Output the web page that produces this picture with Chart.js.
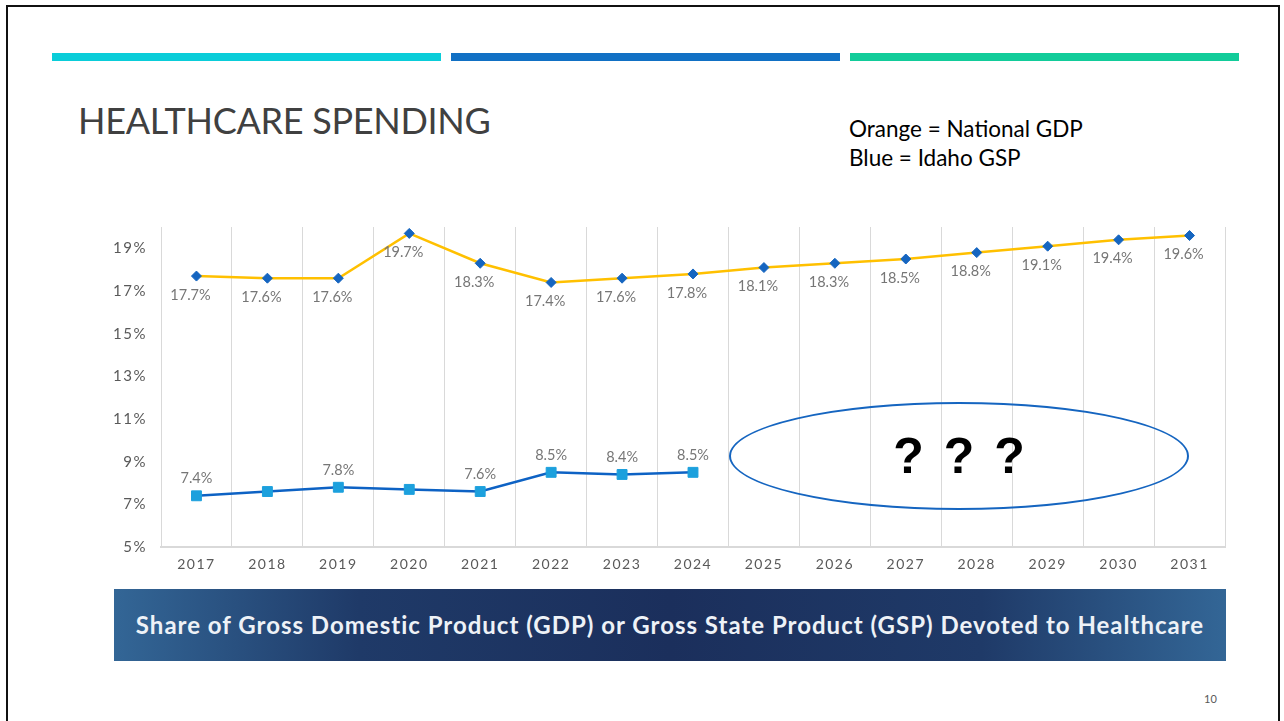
<!DOCTYPE html>
<html>
<head>
<meta charset="utf-8">
<script src="https://cdn.jsdelivr.net/npm/chart.js@4/dist/chart.umd.min.js"></script>
<style>
  body { margin: 0; background: #fff; width: 1284px; height: 721px; overflow: hidden; position: relative; font-family: Lato, "Open Sans", sans-serif; }
  #frame { position: absolute; left: 6px; top: 5px; width: 1274px; height: 800px; border: 2px solid #111; box-sizing: border-box; }
  .bar { position: absolute; top: 53px; height: 8px; width: 389px; }
  #title { position: absolute; left: 78px; top: 98px; font-size: 36px; color: #404040; letter-spacing: -0.3px; }
  #legendNote { position: absolute; left: 849px; top: 114px; font-size: 22.5px; line-height: 29px; color: #000; }
  #chartBox { position: absolute; left: 100px; top: 204px; width: 1135px; height: 376px; }
  #oval { position: absolute; left: 729px; top: 402px; width: 460px; height: 108px; border: 2px solid #1565C0; border-radius: 50%; box-sizing: border-box; }
  #qq { position: absolute; left: 729px; top: 402px; width: 460px; height: 108px; line-height: 108px; text-align: center; font-family: "Liberation Sans", Arial, sans-serif; font-weight: bold; font-size: 50px; color: #000; word-spacing: 6px; }
  #banner { position: absolute; left: 114px; top: 589px; width: 1112px; height: 72px; line-height: 72px; text-align: center; color: #EEF2F7; font-size: 24px; font-weight: bold; letter-spacing: 1px;
    background: linear-gradient(90deg, #336696 0%, #1F3A68 22%, #1B2F5C 50%, #1F3A68 78%, #336696 100%); }
  #pageNo { position: absolute; left: 1204px; top: 692px; font-size: 11px; color: #595959; }
</style>
</head>
<body>
<div id="frame"></div>
<div class="bar" style="left:52px;background:#0ACDD9"></div>
<div class="bar" style="left:451px;background:#1170C4"></div>
<div class="bar" style="left:850px;background:#12CC9A"></div>
<div id="title">HEALTHCARE SPENDING</div>
<div id="legendNote">Orange = National GDP<br>Blue = Idaho GSP</div>
<div id="chartBox"><canvas id="chart"></canvas></div>
<div id="oval"></div>
<div id="qq">? ? ?</div>
<div id="banner">Share of Gross Domestic Product (GDP) or Gross State Product (GSP) Devoted to Healthcare</div>
<div id="pageNo">10</div>
<script>
// values
var years = ['2017', '2018', '2019', '2020', '2021', '2022', '2023', '2024', '2025', '2026', '2027', '2028', '2029', '2030', '2031'];
var nationalGdp = [17.7, 17.6, 17.6, 19.7, 18.3, 17.4, 17.6, 17.8, 18.1, 18.3, 18.5, 18.8, 19.1, 19.4, 19.6];
var idahoGsp = [7.4, 7.6, 7.8, 7.7, 7.6, 8.5, 8.4, 8.5, null, null, null, null, null, null, null];
var idahoNoLabel = [1, 3]; // 2018 and 2020 have no label on the slide
var yTicks = [5, 7, 9, 11, 13, 15, 17, 19];

var tickFont = { family: 'Lato, sans-serif', size: 14 };

// draws the % labels next to the points
var pointLabels = {
  id: 'pointLabels',
  beforeDraw: function (chart) {
    chart.ctx.letterSpacing = '1.5px';
  },
  beforeDatasetsDraw: function (chart) {
    chart.ctx.letterSpacing = '0px';
  },
  afterDatasetsDraw: function (chart) {
    var ctx = chart.ctx;
    ctx.save();
    ctx.font = '14.5px Lato, sans-serif';
    ctx.fillStyle = '#767676';
    ctx.textAlign = 'center';
    ctx.textBaseline = 'middle';
    chart.data.datasets.forEach(function (ds, i) {
      chart.getDatasetMeta(i).data.forEach(function (pt, j) {
        var v = ds.data[j];
        if (v == null) return;
        if (i == 1 && idahoNoLabel.indexOf(j) >= 0) return;
        var txt = v.toFixed(1) + '%';
        if (i == 0) ctx.fillText(txt, pt.x - 6, pt.y + 19);
        else ctx.fillText(txt, pt.x, pt.y - 17);
      });
    });
    ctx.restore();
  }
};

var ctx = document.getElementById('chart').getContext('2d');
var chart = new Chart(ctx, {
  type: 'line',
  data: {
    labels: years,
    datasets: [
      {
        label: 'National GDP',
        data: nationalGdp,
        borderColor: '#FFC000',
        borderWidth: 2.5,
        pointStyle: 'rectRot',
        pointRadius: 5,
        pointBackgroundColor: '#1565C0',
        pointBorderColor: '#1565C0',
        pointBorderWidth: 1,
        tension: 0
      },
      {
        label: 'Idaho GSP',
        data: idahoGsp,
        borderColor: '#0D62C4',
        borderWidth: 2.5,
        pointStyle: 'rect',
        pointRadius: 7,
        pointBackgroundColor: '#1CA0DD',
        pointBorderColor: '#1CA0DD',
        pointBorderWidth: 1,
        spanGaps: false,
        tension: 0
      }
    ]
  },
  options: {
    responsive: true,
    maintainAspectRatio: false,
    animation: false,
    layout: { padding: { left: 0, top: 7, right: 10, bottom: 0 } },
    plugins: { legend: { display: false }, tooltip: { enabled: false } },
    scales: {
      x: {
        offset: true,
        grid: { display: true, offset: true, color: '#D9D9D9', lineWidth: 1, drawTicks: false },
        border: { display: true, color: '#D9D9D9', width: 2 },
        ticks: { color: '#595959', font: tickFont, padding: 9, maxRotation: 0 },
        afterFit: function (scale) { scale.height = 33; }
      },
      y: {
        min: 5,
        max: 20,
        grid: { display: false, drawTicks: false },
        border: { display: true, color: '#D9D9D9', width: 1 },
        ticks: { color: '#595959', font: { family: 'Lato, sans-serif', size: 15 }, padding: 14, callback: function (v) { return v + '%'; } },
        afterBuildTicks: function (scale) { scale.ticks = yTicks.map(function (v) { return { value: v }; }); },
        afterFit: function (scale) { scale.width = 61; }
      }
    }
  },
  plugins: [pointLabels]
});
</script>
</body>
</html>
